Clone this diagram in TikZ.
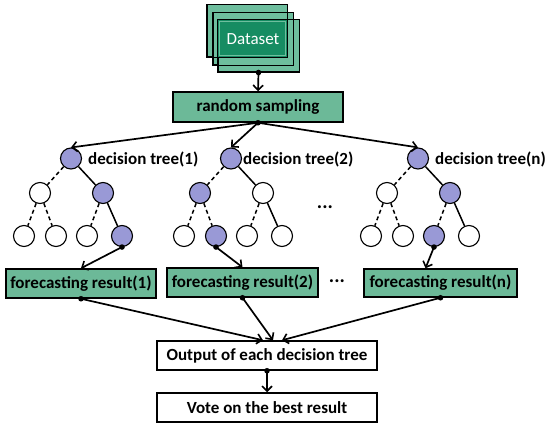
\documentclass[tikz,border=0pt]{standalone}
\usepackage{fontspec}
\setmainfont{Carlito}
\usetikzlibrary{arrows.meta,calc}
\definecolor{boxgreen}{RGB}{108,185,152}
\definecolor{dslight}{RGB}{110,190,158}
\definecolor{dsdark}{RGB}{22,140,98}
\definecolor{purp}{RGB}{153,153,214}
\tikzset{
  gbox/.style={draw=black,line width=1.5,fill=boxgreen,inner sep=0,font=\fontsize{17}{20}\selectfont\bfseries},
  wbox/.style={draw=black,line width=1.5,fill=white,inner sep=0,font=\fontsize{17}{20}\selectfont\bfseries},
  dsrect/.style={draw=black,line width=1,fill=dslight,minimum width=80,minimum height=52,inner sep=0},
  cnode/.style={circle,draw=black,line width=1.1,minimum size=21,inner sep=0},
  edgeline/.style={line width=1.5},
  dashedge/.style={line width=1.5,dash pattern=on 4pt off 3pt},
  arr/.style={line width=1.7,-{Straight Barb[length=5,width=10,line width=1.6]}},
  lbl/.style={font=\fontsize{17}{20}\selectfont\bfseries,inner sep=0,anchor=west},
  dotsty/.style={fill=black}
}
\newcommand\mytree[8]{%
  \node[cnode,fill=#3] (#1r) at (#2,158.5) {};
  \node[cnode,fill=#4] (#1a) at (#2-31,193) {};
  \node[cnode,fill=#5] (#1b) at (#2+32,193) {};
  \node[cnode,fill=white] (#1c) at (#2-47,236) {};
  \node[cnode,fill=#6] (#1d) at (#2-15,236) {};
  \node[cnode,fill=#7] (#1e) at (#2+16,236) {};
  \node[cnode,fill=#8] (#1f) at (#2+51,236) {};
  \draw[dashedge] (#1r) -- (#1a);
  \draw[edgeline] (#1r) -- (#1b);
  \draw[dashedge] (#1a) -- (#1c);
  \draw[dashedge] (#1a) -- (#1d);
  \draw[dashedge] (#1b) -- (#1e);
  \draw[edgeline] (#1b) -- (#1f);
}
\begin{document}
\begin{tikzpicture}[x=1pt,y=-1pt]
\useasboundingbox (0,0) rectangle (550,428);
% dataset stack
\node[dsrect] (ds1) at (247,31) {};
\node[dsrect] (ds2) at (253,39) {};
\node[dsrect,minimum width=81] (ds3) at (258.5,46) {};
\fill[dsdark] (ds3.north west) rectangle (ds1.south east);
\draw[dslight,line width=1.5] ([shift={(2,2)}]ds3.north west) rectangle ([shift={(-2,-2)}]ds1.south east);
\draw[line width=1] (ds1.north west) rectangle (ds1.south east);
\draw[line width=1] (ds2.north west) rectangle (ds2.south east);
\draw[line width=1] (ds3.north west) rectangle (ds3.south east);
\node[text=white,font=\fontsize{17}{20}\selectfont,inner sep=0] (dstext) at (253,39) {Dataset};
% random sampling
\node[gbox,minimum width=170,minimum height=30] (rs) at (258,107) {random sampling};
\draw[arr] (ds3.south) -- (rs.north);
\fill[dotsty] (ds3.south) circle (2.8);
% trees
\mytree{t1}{71}{purp}{white}{purp}{white}{white}{purp}
\mytree{t2}{231}{purp}{purp}{white}{purp}{white}{white}
\mytree{tn}{418}{purp}{white}{purp}{white}{purp}{white}
\node[lbl] (l1) at (88,159) {decision tree(1)};
\node[lbl] (l2) at (243,159) {decision tree(2)};
\node[lbl] (ln) at (435,159) {decision tree(n)};
\draw[arr] (rs.south) -- (t1r.north);
\draw[arr] (rs.south) -- (t2r.north);
\draw[arr] (rs.south) -- (tnr.north);
\fill[dotsty] (rs.south) circle (2.8);
\node[font=\fontsize{20}{22}\selectfont\bfseries,inner sep=0] (dots1) at (325,207) {...};
% forecasting boxes
\node[gbox,minimum width=150,minimum height=29] (b1) at (81,283.5) {forecasting result(1)};
\node[gbox,minimum width=151,minimum height=29] (b2) at (242.5,282.5) {forecasting result(2)};
\node[gbox,minimum width=153,minimum height=28] (bn) at (440.5,283) {forecasting result(n)};
\node[font=\fontsize{20}{22}\selectfont\bfseries,inner sep=0] (dots2) at (337,281) {...};
\draw[arr] (t1f.south) -- (b1.north);
\fill[dotsty] (t1f.south) circle (2.8);
\draw[arr] (t2d.south) -- (b2.north);
\fill[dotsty] (t2d.south) circle (2.8);
\draw[arr] (tne.south) -- ([xshift=-15]bn.north);
\fill[dotsty] (tne.south) circle (2.8);
% output
\node[wbox,minimum width=220,minimum height=29] (out) at (267,355.5) {Output of each decision tree};
\node[wbox,minimum width=220,minimum height=29] (vote) at (267,407.5) {Vote on the best result};
\draw[arr] (b1.south) -- ([xshift=-4]out.north);
\draw[arr] (b2.south) -- ([xshift=6]out.north);
\draw[arr] (bn.south) -- ([xshift=15]out.north);
\fill[dotsty] (b1.south) circle (2.8);
\fill[dotsty] (b2.south) circle (2.8);
\fill[dotsty] (bn.south) circle (2.8);
\draw[arr] (out.south) -- (vote.north);
\fill[dotsty] (out.south) circle (2.8);
\end{tikzpicture}
\end{document}
